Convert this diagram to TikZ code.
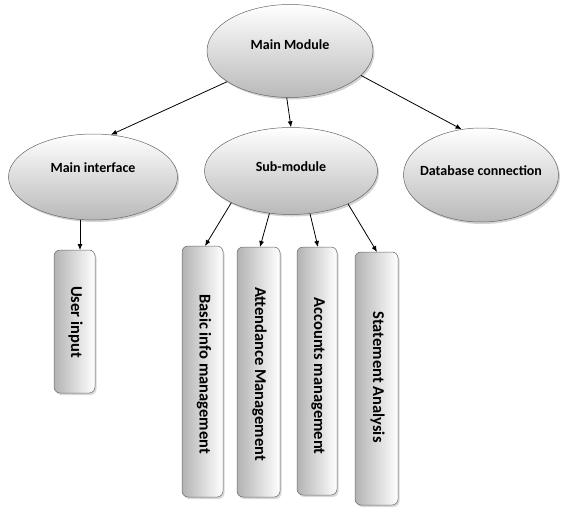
\documentclass[tikz,border=0pt]{standalone}
\usepackage{fontspec}
\setmainfont{Carlito}
\usetikzlibrary{shapes.geometric,shadows,arrows.meta}
\begin{document}
\begin{tikzpicture}[x=1pt,y=-1pt,
  oval/.style={ellipse,draw=gray!80!black,line width=0.5pt,top color=white,bottom color=gray!55,
    drop shadow={shadow xshift=1.5pt,shadow yshift=-2pt,opacity=0.35},inner sep=0pt},
  otext/.style={font=\bfseries\fontsize{14}{16}\selectfont,inner sep=0pt},
  bar/.style={rounded corners=6pt,draw=gray!80!black,line width=0.5pt,left color=gray!60,right color=white,
    drop shadow={shadow xshift=1.5pt,shadow yshift=-2pt,opacity=0.3}},
  vtext/.style={rotate=-90,font=\bfseries\fontsize{16.5}{18}\selectfont,inner sep=0pt},
  arr/.style={-{Latex[length=6pt,width=5pt]},line width=0.8pt}]
\useasboundingbox (0,0) rectangle (570,507);
% ellipses
\node[oval,minimum width=166pt,minimum height=93pt] (main) at (290,51) {};
\node[otext] (maint) at (290,45) {Main Module};
\node[oval,minimum width=169pt,minimum height=86pt] (mi) at (93,177) {};
\node[otext] (mit) at (93,168) {Main interface};
\node[oval,minimum width=173pt,minimum height=87pt] (sub) at (291,171) {};
\node[otext] (subt) at (291,167) {Sub-module};
\node[oval,minimum width=155pt,minimum height=94pt] (db) at (481,175) {};
\node[otext] (dbt) at (481,171) {Database connection};
% bars
\draw[bar] (54,250) rectangle (95,393);
\node[vtext] (ui) at (75.5,322) {User input};
\draw[bar] (182,246) rectangle (223,497);
\node[vtext] (b1) at (204,374) {Basic info management};
\draw[bar] (237,247) rectangle (280,497);
\node[vtext] (b2) at (259.5,374) {Attendance Management};
\draw[bar] (297,247) rectangle (337,495);
\node[vtext] (b3) at (318,376) {Accounts management};
\draw[bar] (355,252) rectangle (398,505);
\node[vtext] (b4) at (377.5,377) {Statement Analysis};
% anchors for bar tops
\coordinate (t0) at (80,250);
\coordinate (t1) at (205,246);
\coordinate (t2) at (260,247);
\coordinate (t3) at (318,247);
\coordinate (t4) at (377,252);
% connectors
\draw[arr] (main.206) -- (mi.67);
\draw[arr] (main.266) -- (sub.north);
\draw[arr] (main.-19) -- (db.113);
\draw[arr] (mi.south -| t0) -- (t0);
\draw[arr] (sub.208) -- (t1);
\draw[arr] (sub.243) -- (t2);
\draw[arr] (sub.294) -- (t3);
\draw[arr] (sub.330) -- (t4);
\end{tikzpicture}
\end{document}
